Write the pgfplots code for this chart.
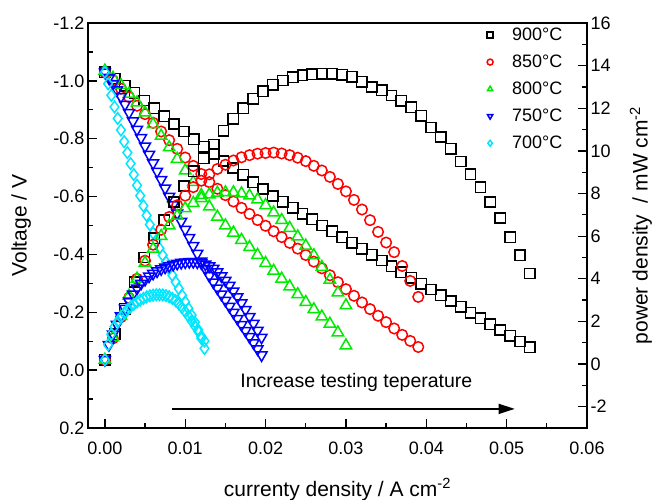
\documentclass[border=0pt]{standalone}
\usepackage{fontspec}
\setmainfont{Liberation Sans}
\usepackage{pgfplots}
\pgfplotsset{compat=1.18}
\usepackage{pgfplotstable}
\usetikzlibrary{arrows.meta}

\definecolor{cgreen}{RGB}{0,235,0}
\definecolor{cblue}{RGB}{0,0,255}
\definecolor{ccyan}{RGB}{0,230,255}

% columns: current density (A/cm2), voltage (V), power density (mW/cm2)
\pgfplotstableread{
I V P
0.00000 -1.030 0.2
0.00123 -1.007 1.4
0.00246 -0.983 2.6
0.00369 -0.959 3.85
0.00492 -0.932 5.0
0.00615 -0.905 5.9
0.00738 -0.878 6.75
0.00861 -0.851 7.6
0.00984 -0.825 8.35
0.01107 -0.798 9.05
0.01230 -0.772 9.65
0.01353 -0.748 10.3
0.01476 -0.723 10.95
0.01599 -0.699 11.5
0.01722 -0.675 12.0
0.01845 -0.650 12.45
0.01968 -0.626 12.8
0.02091 -0.602 13.1
0.02214 -0.582 13.3
0.02337 -0.561 13.45
0.02460 -0.541 13.55
0.02583 -0.521 13.6
0.02706 -0.500 13.62
0.02829 -0.480 13.62
0.02952 -0.460 13.58
0.03075 -0.440 13.48
0.03198 -0.420 13.25
0.03321 -0.399 13.0
0.03444 -0.379 12.85
0.03567 -0.359 12.6
0.03690 -0.339 12.35
0.03813 -0.319 12.05
0.03936 -0.299 11.65
0.04059 -0.279 11.1
0.04182 -0.259 10.65
0.04305 -0.239 10.1
0.04428 -0.219 9.5
0.04551 -0.199 8.9
0.04674 -0.179 8.3
0.04797 -0.159 7.6
0.04920 -0.139 6.85
0.05043 -0.119 5.95
0.05166 -0.099 5.1
0.05289 -0.079 4.25
}\tnine

\pgfplotstableread{
I V P
0.000 -1.030 0.2
0.001 -1.002 1.2
0.002 -0.973 2.2
0.003 -0.944 3.1
0.004 -0.914 4.0
0.005 -0.885 4.85
0.006 -0.855 5.6
0.007 -0.825 6.3
0.008 -0.795 6.9
0.009 -0.765 7.45
0.010 -0.735 7.9
0.011 -0.706 8.3
0.012 -0.678 8.6
0.013 -0.650 8.9
0.014 -0.627 9.15
0.015 -0.605 9.35
0.016 -0.583 9.55
0.017 -0.561 9.7
0.018 -0.540 9.8
0.019 -0.519 9.87
0.020 -0.499 9.9
0.021 -0.480 9.92
0.022 -0.460 9.88
0.023 -0.440 9.8
0.024 -0.420 9.68
0.025 -0.398 9.52
0.026 -0.375 9.3
0.027 -0.352 9.08
0.028 -0.328 8.78
0.029 -0.304 8.45
0.030 -0.280 8.1
0.031 -0.257 7.7
0.032 -0.234 7.25
0.033 -0.211 6.75
0.034 -0.188 6.2
0.035 -0.166 5.7
0.036 -0.144 5.25
0.037 -0.122 4.6
0.038 -0.101 3.9
0.039 -0.080 3.15
}\teightfifty

\pgfplotstableread{
I V P
0.000 -1.035 0.2
0.001 -1.010 1.25
0.002 -0.985 2.25
0.003 -0.955 3.2
0.004 -0.925 4.0
0.005 -0.890 4.75
0.006 -0.850 5.4
0.007 -0.810 6.0
0.008 -0.770 6.5
0.009 -0.730 6.95
0.010 -0.690 7.3
0.011 -0.650 7.55
0.012 -0.605 7.78
0.013 -0.565 7.95
0.014 -0.530 8.03
0.015 -0.500 8.05
0.016 -0.475 8.05
0.017 -0.450 8.0
0.018 -0.425 7.9
0.019 -0.398 7.72
0.020 -0.370 7.45
0.021 -0.343 7.1
0.022 -0.316 6.75
0.023 -0.289 6.38
0.024 -0.262 5.98
0.025 -0.235 5.55
0.026 -0.210 5.1
0.027 -0.185 4.55
0.028 -0.160 3.95
0.029 -0.130 3.35
0.030 -0.085 2.75
}\teight

\pgfplotstableread{
I V P
0.0000 -1.030 0.2
0.0005 -1.010 0.9
0.0010 -0.990 1.4
0.0015 -0.968 1.85
0.0020 -0.945 2.25
0.0025 -0.918 2.6
0.0030 -0.890 2.95
0.0035 -0.861 3.27
0.0040 -0.832 3.55
0.0045 -0.803 3.78
0.0050 -0.774 3.96
0.0055 -0.745 4.12
0.0060 -0.716 4.25
0.0065 -0.687 4.36
0.0070 -0.658 4.46
0.0075 -0.629 4.54
0.0080 -0.600 4.61
0.0085 -0.571 4.67
0.0090 -0.542 4.72
0.0095 -0.514 4.76
0.0100 -0.486 4.78
0.0105 -0.458 4.8
0.0110 -0.430 4.8
0.0115 -0.403 4.78
0.0120 -0.376 4.74
0.0125 -0.350 4.68
0.0130 -0.326 4.6
0.0135 -0.304 4.48
0.0140 -0.283 4.32
0.0145 -0.262 4.13
0.0150 -0.241 3.92
0.0155 -0.220 3.68
0.0160 -0.199 3.42
0.0165 -0.178 3.15
0.0170 -0.157 2.86
0.0175 -0.136 2.55
0.0180 -0.115 2.22
0.0185 -0.094 1.9
0.0190 -0.073 1.57
0.0195 -0.052 1.25
}\tsevenfifty

\pgfplotstableread{
I V P
0.0000 -1.030 0.2
0.0004 -0.990 0.9
0.0008 -0.950 1.4
0.0012 -0.910 1.75
0.0016 -0.870 2.0
0.0020 -0.830 2.2
0.0024 -0.790 2.38
0.0028 -0.752 2.54
0.0032 -0.714 2.68
0.0036 -0.676 2.8
0.0040 -0.639 2.91
0.0044 -0.603 3.0
0.0048 -0.568 3.08
0.0052 -0.535 3.15
0.0056 -0.503 3.2
0.0060 -0.474 3.23
0.0064 -0.447 3.25
0.0068 -0.421 3.25
0.0072 -0.397 3.24
0.0076 -0.374 3.21
0.0080 -0.351 3.16
0.0084 -0.328 3.08
0.0088 -0.305 2.97
0.0092 -0.282 2.82
0.0096 -0.259 2.65
0.0100 -0.236 2.46
0.0104 -0.213 2.25
0.0108 -0.190 2.02
0.0112 -0.166 1.78
0.0116 -0.140 1.54
0.0120 -0.110 1.3
0.0124 -0.075 1.08
}\tseven

\pgfplotsset{
  common/.style={
    scale only axis, width=499bp, height=405bp,
    xmin=-0.0021, xmax=0.06,
    axis line style={line width=1.6bp},
    tick style={line width=1.3bp, black},
    major tick length=9bp, minor tick length=5bp,
    tick label style={font=\fontsize{18bp}{21bp}\selectfont},
    label style={font=\fontsize{21bp}{24bp}\selectfont},
    /pgf/number format/assume math mode=true,
  },
  s900/.style={only marks, mark=square, black, mark size=5.2pt, mark options={line width=1.5bp}},
  s850/.style={only marks, mark=o, red, mark size=5.3pt, mark options={line width=1.5bp}},
  s800/.style={only marks, mark=triangle, cgreen, mark size=6.6pt, mark options={line width=1.5bp}},
  s750/.style={only marks, mark=triangle, cblue, mark size=6.3pt, mark options={rotate=180, line width=1.5bp}},
  s700/.style={only marks, mark=diamond, ccyan, mark size=5.8pt, mark options={line width=1.5bp}},
}

\begin{document}
\begin{tikzpicture}
\useasboundingbox (-88bp,-72bp) rectangle (566bp,428bp);
\begin{axis}[
  common,
  y dir=reverse,
  ymin=-1.2, ymax=0.2,
  ytick={-1.2,-1.0,-0.8,-0.6,-0.4,-0.2,0.0,0.2},
  xtick={0,0.01,0.02,0.03,0.04,0.05,0.06},
  minor x tick num=1, minor y tick num=1,
  xtick pos=bottom, ytick pos=left,
  xticklabel style={yshift=-10bp, /pgf/number format/.cd, fixed, fixed zerofill, precision=2},
  yticklabel style={/pgf/number format/.cd, fixed, fixed zerofill, precision=1},
  scaled x ticks=false,
  xlabel={currenty density / A cm\textsuperscript{-2}},
  ylabel={Voltage / V},
  xlabel style={at={(axis description cs:0.5,-0.152)}, anchor=center},
  ylabel style={at={(axis description cs:-0.134,0.5)}, anchor=center},
  legend style={at={(0.782,0.998)}, anchor=north west, draw=none, fill=none,
    font=\fontsize{18bp}{21bp}\selectfont, row sep=9bp, cells={anchor=west}},
  legend image code/.code={\draw[#1, mark size=3pt, line width=1bp] plot coordinates {(0.3cm,0cm)}; \path (0cm,0cm) (1.0cm,0cm);},
]
\addplot[s900] table[x=I, y=V] {\tnine};
\addplot[s850] table[x=I, y=V] {\teightfifty};
\addplot[s800] table[x=I, y=V] {\teight};
\addplot[s750] table[x=I, y=V] {\tsevenfifty};
\addplot[s700] table[x=I, y=V] {\tseven};
\legend{900°C, 850°C, 800°C, 750°C, 700°C}
\node[font=\fontsize{19.5bp}{22bp}\selectfont] at (axis cs:0.0313,0.044) {Increase testing teperature};
\draw[line width=1.8bp, -{Triangle[length=16bp, width=10bp]}] (axis cs:0.0084,0.134) -- (axis cs:0.0510,0.134);
\end{axis}
\begin{axis}[
  common,
  axis x line=none,
  axis y line*=right,
  ymin=-3, ymax=16,
  ytick={-2,0,2,4,6,8,10,12,14,16},
  minor y tick num=1,
  ylabel={power density~ / mW cm\textsuperscript{-2}},
  ylabel style={at={(axis description cs:1.108,0.5)}, anchor=center},
]
\addplot[s900] table[x=I, y=P] {\tnine};
\addplot[s850] table[x=I, y=P] {\teightfifty};
\addplot[s800] table[x=I, y=P] {\teight};
\addplot[s750] table[x=I, y=P] {\tsevenfifty};
\addplot[s700] table[x=I, y=P] {\tseven};
\end{axis}
\end{tikzpicture}
\end{document}
